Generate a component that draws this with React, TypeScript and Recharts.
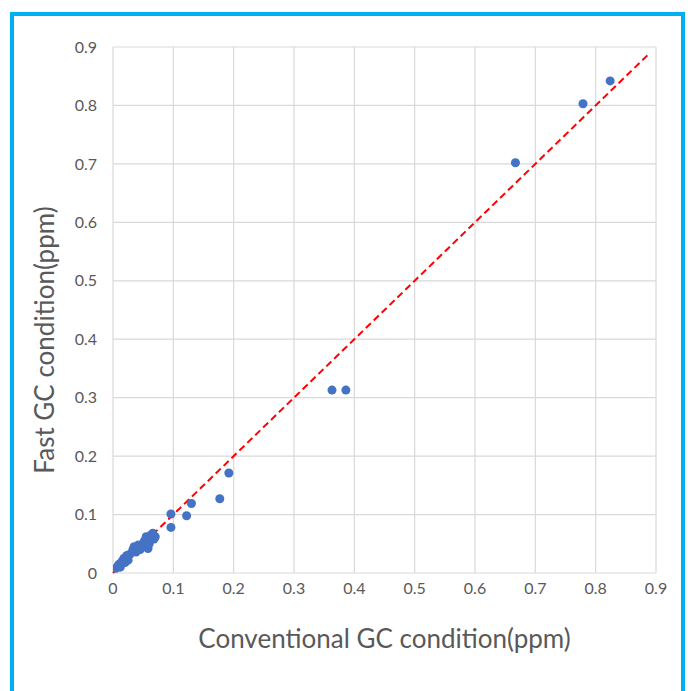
import { ScatterChart, Scatter, XAxis, YAxis, CartesianGrid, ReferenceLine } from "recharts";

const xTicks = [0, 0.1, 0.2, 0.3, 0.4, 0.5, 0.6, 0.7, 0.8, 0.9];
const yTicks = [0, 0.1, 0.2, 0.3, 0.4, 0.5, 0.6, 0.7, 0.8, 0.9];

// conventional GC (x) vs fast GC (y), ppm
const conventional = [
  0.005, 0.008, 0.010, 0.012, 0.015, 0.018, 0.020, 0.023, 0.025, 0.028,
  0.033, 0.035, 0.038, 0.042, 0.045, 0.050, 0.052, 0.055, 0.058, 0.060,
  0.063, 0.066, 0.068, 0.070, 0.096, 0.096, 0.122, 0.130, 0.177, 0.192,
  0.363, 0.386, 0.667, 0.779, 0.824,
];
const fast = [
  0.008, 0.012, 0.015, 0.010, 0.020, 0.025, 0.018, 0.030, 0.022, 0.032,
  0.040, 0.045, 0.036, 0.048, 0.040, 0.045, 0.055, 0.062, 0.042, 0.050,
  0.065, 0.068, 0.058, 0.062, 0.101, 0.078, 0.098, 0.119, 0.127, 0.171,
  0.313, 0.313, 0.702, 0.803, 0.842,
];

const diagonal = [
  { x: 0, y: 0 },
  { x: 0.89, y: 0.89 },
];

const points = conventional.map((x, i) => ({ x, y: fast[i] }));

const FONT = "Lato, 'Open Sans', sans-serif";

const XTitle = (props: any) => {
  const { viewBox } = props;
  return (
    <text
      x={viewBox.x + viewBox.width / 2}
      y={viewBox.y + 75}
      textAnchor="middle"
      fontSize={26}
      fontFamily={FONT}
      fill="#595959"
    >
      Conventional GC condition(ppm)
    </text>
  );
};

const YTitle = (props: any) => {
  const { viewBox } = props;
  const cx = 40;
  const cy = viewBox.y + viewBox.height / 2 + 30;
  return (
    <text
      x={cx}
      y={cy}
      textAnchor="middle"
      fontSize={26}
      fontFamily={FONT}
      fill="#595959"
      transform={`rotate(-90, ${cx}, ${cy})`}
    >
      Fast GC condition(ppm)
    </text>
  );
};

export default function App() {
  return (
    <div
      style={{
        position: "absolute",
        left: 10,
        top: 12,
        width: 667,
        height: 700,
        border: "4px solid #00B0F0",
        background: "#fff",
      }}
    >
      <ScatterChart width={667} height={680} margin={{ top: 31, right: 25, left: 0, bottom: 43 }}>
        <CartesianGrid stroke="#d9d9d9" strokeWidth={1.2} />
        <XAxis
          type="number"
          dataKey="x"
          domain={[0, 0.9]}
          ticks={xTicks}
          axisLine={false}
          tickLine={false}
          tickMargin={4}
          height={80}
          tick={{ fill: "#595959", fontSize: 16, fontFamily: FONT }}
          label={<XTitle />}
          allowDataOverflow
        />
        <YAxis
          type="number"
          dataKey="y"
          domain={[0, 0.9]}
          ticks={yTicks}
          axisLine={false}
          tickLine={false}
          tickMargin={10}
          width={99}
          tick={{ fill: "#595959", fontSize: 16, fontFamily: FONT }}
          label={<YTitle />}
          allowDataOverflow
        />
        <Scatter data={points} fill="#4472C4" isAnimationActive={false} shape="circle" r={6} />
        <ReferenceLine
          segment={diagonal}
          stroke="#FF0000"
          strokeWidth={2}
          strokeDasharray="7 4"
          ifOverflow="visible"
        />
      </ScatterChart>
    </div>
  );
}
